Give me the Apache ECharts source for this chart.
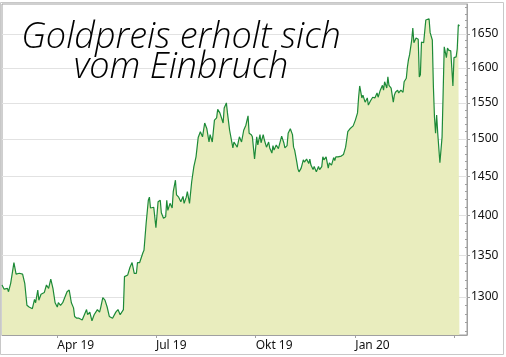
<!DOCTYPE html>
<html><head><meta charset="utf-8">
<script src="https://cdn.jsdelivr.net/npm/echarts@6/dist/echarts.min.js"></script>
<style>html,body{margin:0;padding:0;background:#fff}#c{width:506px;height:357px}</style>
</head><body><div id="c"></div><script>
const dates = ['2019-02-09','2019-02-11','2019-02-14','2019-02-15','2019-02-17','2019-02-20','2019-02-22','2019-02-25','2019-02-28','2019-03-02','2019-03-04','2019-03-06','2019-03-09','2019-03-11','2019-03-12','2019-03-14','2019-03-15','2019-03-17','2019-03-20','2019-03-22','2019-03-24','2019-03-26','2019-03-28','2019-03-30','2019-04-01','2019-04-02','2019-04-04','2019-04-06','2019-04-10','2019-04-12','2019-04-14','2019-04-16','2019-04-17','2019-04-19','2019-04-21','2019-04-24','2019-04-26','2019-04-28','2019-04-29','2019-05-01','2019-05-03','2019-05-05','2019-05-08','2019-05-10','2019-05-11','2019-05-13','2019-05-15','2019-05-17','2019-05-19','2019-05-22','2019-05-23','2019-05-25','2019-05-27','2019-05-29','2019-06-01','2019-06-02','2019-06-05','2019-06-07','2019-06-09','2019-06-11','2019-06-13','2019-06-14','2019-06-16','2019-06-19','2019-06-20','2019-06-22','2019-06-24','2019-06-25','2019-06-26','2019-06-29','2019-07-01','2019-07-03','2019-07-05','2019-07-06','2019-07-08','2019-07-10','2019-07-11','2019-07-12','2019-07-14','2019-07-16','2019-07-17','2019-07-19','2019-07-20','2019-07-22','2019-07-24','2019-07-26','2019-07-27','2019-07-29','2019-07-30','2019-08-01','2019-08-03','2019-08-04','2019-08-05','2019-08-07','2019-08-09','2019-08-10','2019-08-11','2019-08-13','2019-08-15','2019-08-17','2019-08-19','2019-08-20','2019-08-22','2019-08-24','2019-08-26','2019-08-27','2019-08-29','2019-09-01','2019-09-02','2019-09-04','2019-09-05','2019-09-07','2019-09-10','2019-09-11','2019-09-12','2019-09-14','2019-09-16','2019-09-18','2019-09-20','2019-09-22','2019-09-24','2019-09-25','2019-09-27','2019-09-28','2019-09-30','2019-10-02','2019-10-03','2019-10-05','2019-10-06','2019-10-08','2019-10-09','2019-10-11','2019-10-13','2019-10-14','2019-10-16','2019-10-17','2019-10-18','2019-10-20','2019-10-22','2019-10-25','2019-10-27','2019-10-28','2019-10-30','2019-10-31','2019-11-02','2019-11-04','2019-11-05','2019-11-06','2019-11-08','2019-11-09','2019-11-10','2019-11-12','2019-11-14','2019-11-15','2019-11-17','2019-11-19','2019-11-20','2019-11-21','2019-11-23','2019-11-24','2019-11-26','2019-11-28','2019-11-29','2019-12-01','2019-12-02','2019-12-03','2019-12-05','2019-12-07','2019-12-08','2019-12-10','2019-12-12','2019-12-13','2019-12-14','2019-12-16','2019-12-19','2019-12-21','2019-12-23','2019-12-24','2019-12-25','2019-12-27','2019-12-30','2020-01-01','2020-01-03','2020-01-04','2020-01-05','2020-01-07','2020-01-08','2020-01-10','2020-01-12','2020-01-13','2020-01-15','2020-01-16','2020-01-17','2020-01-19','2020-01-21','2020-01-22','2020-01-24','2020-01-26','2020-01-27','2020-01-28','2020-01-30','2020-01-31','2020-02-01','2020-02-03','2020-02-05','2020-02-06','2020-02-07','2020-02-09','2020-02-10','2020-02-12','2020-02-14','2020-02-15','2020-02-17','2020-02-18','2020-02-19','2020-02-20','2020-02-22','2020-02-23','2020-02-24','2020-02-26','2020-02-28','2020-02-29','2020-03-01','2020-03-02','2020-03-04','2020-03-06','2020-03-07','2020-03-09','2020-03-10','2020-03-12','2020-03-13','2020-03-14','2020-03-15','2020-03-16','2020-03-17','2020-03-19','2020-03-21','2020-03-22','2020-03-23','2020-03-25','2020-03-26','2020-03-27','2020-03-29','2020-03-31','2020-04-01','2020-04-03','2020-04-04','2020-04-05','2020-04-06'];
const prices = [1314,1309,1310,1306,1316,1341,1327,1328,1327,1316,1290,1288,1286,1297,1293,1308,1296,1303,1305,1314,1310,1321,1310,1293,1288,1293,1290,1293,1306,1308,1293,1287,1277,1275,1275,1273,1279,1285,1279,1282,1272,1279,1285,1282,1287,1299,1296,1288,1277,1275,1273,1282,1285,1279,1285,1324,1326,1335,1341,1328,1328,1341,1341,1353,1356,1390,1419,1423,1409,1410,1384,1417,1419,1403,1396,1398,1419,1406,1415,1409,1430,1445,1426,1423,1417,1424,1415,1423,1430,1415,1443,1441,1463,1476,1502,1500,1510,1503,1522,1514,1496,1506,1496,1526,1529,1541,1536,1522,1543,1550,1536,1512,1488,1496,1497,1489,1503,1496,1512,1519,1532,1508,1506,1503,1473,1503,1492,1506,1495,1506,1499,1489,1496,1488,1481,1491,1485,1492,1487,1504,1495,1488,1491,1508,1514,1506,1489,1485,1469,1460,1456,1461,1472,1469,1473,1467,1473,1465,1459,1463,1456,1463,1459,1463,1476,1472,1476,1461,1468,1465,1475,1471,1476,1476,1477,1479,1489,1499,1510,1514,1518,1526,1536,1558,1574,1557,1561,1551,1557,1547,1553,1554,1558,1557,1564,1558,1568,1575,1568,1580,1571,1587,1575,1571,1551,1561,1565,1568,1564,1568,1565,1580,1585,1601,1612,1619,1641,1659,1637,1644,1642,1587,1590,1638,1637,1671,1674,1673,1652,1641,1573,1530,1508,1533,1508,1468,1503,1565,1631,1615,1629,1626,1625,1574,1615,1616,1628,1664,1662];
const yLabelValues = [1300,1350,1400,1450,1500,1550,1600,1650];
const yMinorTicks = [1260,1270,1280,1290,1310,1320,1330,1340,1360,1370,1380,1390,1410,1420,1430,1440,1460,1470,1480,1490,1510,1520,1530,1540,1560,1570,1580,1590,1610,1620,1630,1640,1660,1670,1680,1690];
const xTickDates = ['2019-04-01','2019-07-01','2019-10-01','2020-01-01','2020-04-01'];
const xLabelDates = ['2019-04-01','2019-07-01','2019-10-01','2020-01-01'];
const monthNames = ['Jan','Feb','Mär','Apr','Mai','Jun','Jul','Aug','Sep','Okt','Nov','Dez'];
const titleLines = ['Goldpreis erholt sich','vom Einbruch'];

const ts = s => new Date(s + 'T00:00:00').getTime();
const chart = echarts.init(document.getElementById('c'), null, {renderer: 'canvas'});
const labelFont = {fontFamily: 'Noto Sans', fontSize: 12, color: '#111'};
chart.setOption({
  animation: false,
  backgroundColor: '#fff',
  grid: {left: 2, top: 4, right: 39, bottom: 22, show: true, borderColor: '#a0a0a0', borderWidth: 1},
  xAxis: {
    type: 'value', min: ts('2019-02-09'), max: ts('2020-04-13'), scale: true,
    axisLine: {show: true, lineStyle: {color: '#a0a0a0'}},
    axisTick: {show: true, length: 3, lineStyle: {color: '#a0a0a0'}, customValues: xTickDates.map(ts)},
    axisLabel: Object.assign({
      customValues: xLabelDates.map(ts), align: 'left', margin: 5,
      formatter: v => { const d = new Date(v); return monthNames[d.getMonth()] + ' ' + String(d.getFullYear()).slice(2); }
    }, labelFont),
    splitLine: {show: false}
  },
  yAxis: [{
    type: 'log', logBase: 10, position: 'right', min: 1255.7, max: 1695.5,
    axisLine: {show: true, lineStyle: {color: '#a0a0a0'}},
    axisTick: {show: true, length: 3, lineStyle: {color: '#a0a0a0'}, customValues: yLabelValues},
    axisLabel: Object.assign({customValues: yLabelValues, margin: 4, formatter: v => String(Math.round(v))}, labelFont),
    splitLine: {show: true, lineStyle: {color: '#e2e2e2', width: 1}}
  }, {
    type: 'log', logBase: 10, position: 'right', min: 1255.7, max: 1695.5,
    axisLine: {show: false},
    axisTick: {show: true, inside: true, length: 2, lineStyle: {color: '#a0a0a0'}, customValues: yMinorTicks},
    axisLabel: {show: false},
    splitLine: {show: false}
  }],
  series: [{
    type: 'line', yAxisIndex: 0,
    data: dates.map((d, i) => [ts(d), prices[i]]),
    symbol: 'none', smooth: false,
    lineStyle: {color: '#1d8a38', width: 1.2},
    areaStyle: {color: '#e9edbe', opacity: 1}
  }],
  graphic: [{
    type: 'rect', silent: true, z: 100,
    shape: {x: 0.5, y: 2.5, width: 503, height: 352},
    style: {fill: 'none', stroke: '#c8c8c8', lineWidth: 1}
  }, {
    type: 'text', z: 100, x: 181, y: 23,
    style: {text: titleLines.join('\n'), font: 'italic 300 36px "Open Sans"', fill: '#000', align: 'center', verticalAlign: 'top', lineHeight: 30}
  }]
});
</script></body></html>
